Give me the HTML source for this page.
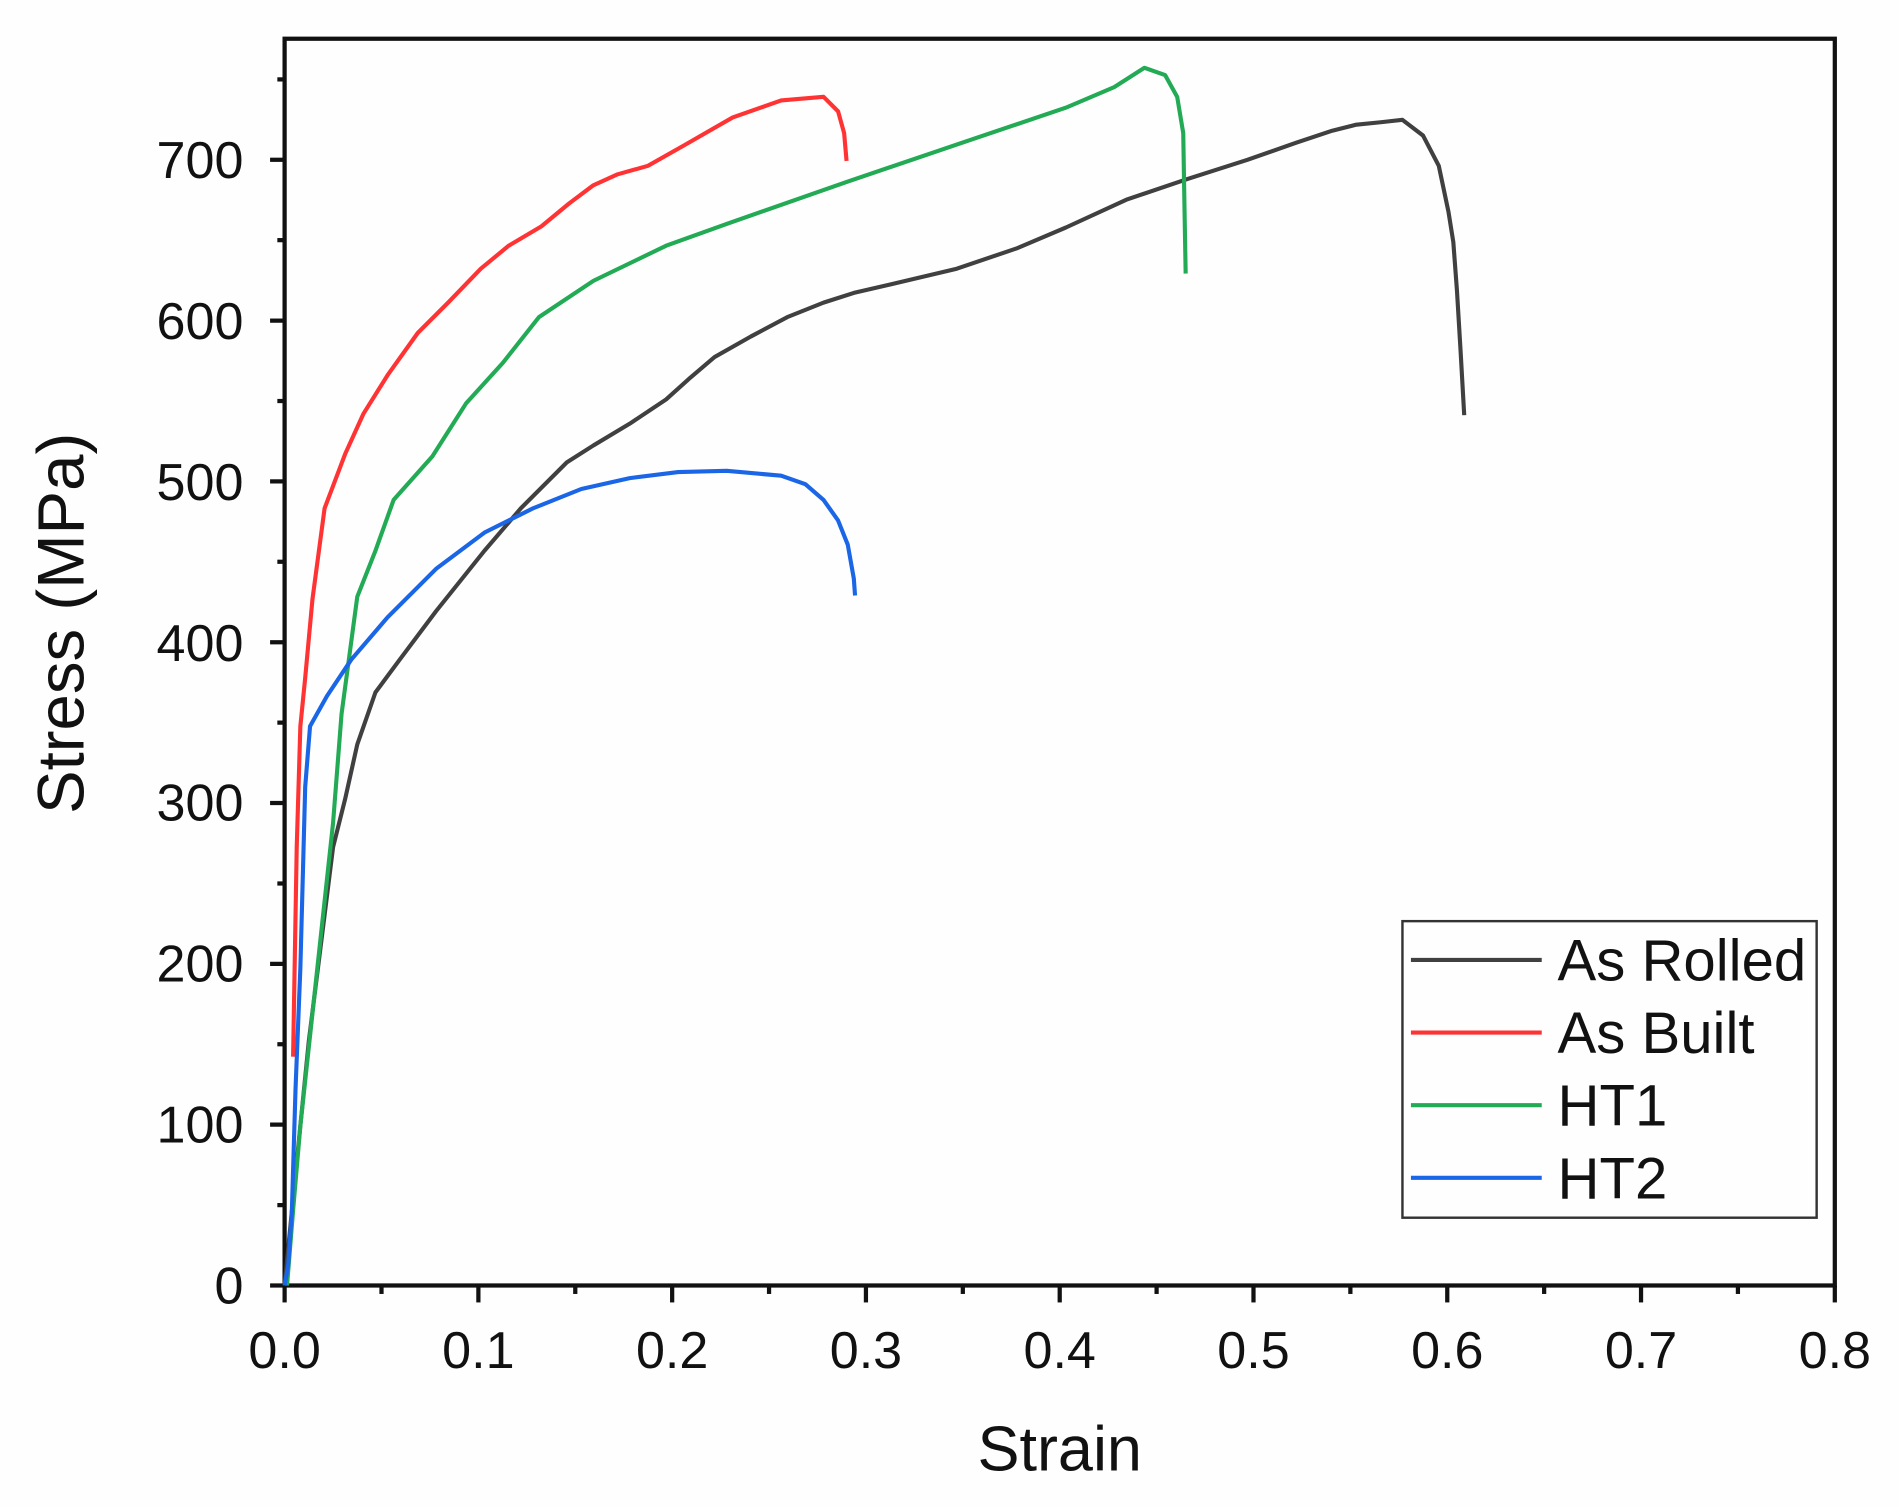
<!DOCTYPE html>
<html><head><meta charset="utf-8"><style>
html,body{margin:0;padding:0;background:#fff;}
svg{display:block;}
text{font-family:"Liberation Sans",Arial,sans-serif;fill:#111;}
</style></head><body>
<svg width="1899" height="1507" viewBox="0 0 1568 1245" preserveAspectRatio="none" xmlns="http://www.w3.org/2000/svg">
<rect width="1568" height="1245" fill="#fefefe"/>
<rect x="235" y="32" width="1280" height="1030" fill="none" stroke="#111" stroke-width="3.5"/>
<g stroke="#111" stroke-width="3.5">
<line x1="223" y1="1062" x2="235" y2="1062"/><line x1="229" y1="995.6" x2="235" y2="995.6"/>
<line x1="223" y1="929.1" x2="235" y2="929.1"/><line x1="229" y1="862.7" x2="235" y2="862.7"/>
<line x1="223" y1="796.3" x2="235" y2="796.3"/><line x1="229" y1="729.9" x2="235" y2="729.9"/>
<line x1="223" y1="663.4" x2="235" y2="663.4"/><line x1="229" y1="597" x2="235" y2="597"/>
<line x1="223" y1="530.6" x2="235" y2="530.6"/><line x1="229" y1="464.1" x2="235" y2="464.1"/>
<line x1="223" y1="397.7" x2="235" y2="397.7"/><line x1="229" y1="331.3" x2="235" y2="331.3"/>
<line x1="223" y1="264.9" x2="235" y2="264.9"/><line x1="229" y1="198.4" x2="235" y2="198.4"/>
<line x1="223" y1="132" x2="235" y2="132"/><line x1="229" y1="65.6" x2="235" y2="65.6"/>
</g>
<g stroke="#111" stroke-width="3.5">
<line x1="235" y1="1062" x2="235" y2="1076"/><line x1="315" y1="1062" x2="315" y2="1069"/>
<line x1="395" y1="1062" x2="395" y2="1076"/><line x1="475" y1="1062" x2="475" y2="1069"/>
<line x1="555" y1="1062" x2="555" y2="1076"/><line x1="635" y1="1062" x2="635" y2="1069"/>
<line x1="715" y1="1062" x2="715" y2="1076"/><line x1="795" y1="1062" x2="795" y2="1069"/>
<line x1="875" y1="1062" x2="875" y2="1076"/><line x1="955" y1="1062" x2="955" y2="1069"/>
<line x1="1035" y1="1062" x2="1035" y2="1076"/><line x1="1115" y1="1062" x2="1115" y2="1069"/>
<line x1="1195" y1="1062" x2="1195" y2="1076"/><line x1="1275" y1="1062" x2="1275" y2="1069"/>
<line x1="1355" y1="1062" x2="1355" y2="1076"/><line x1="1435" y1="1062" x2="1435" y2="1069"/>
<line x1="1515" y1="1062" x2="1515" y2="1076"/>
</g>
<g font-size="43" text-anchor="end">
<text x="201" y="1077">0</text><text x="201" y="944">100</text><text x="201" y="811">200</text>
<text x="201" y="678">300</text><text x="201" y="546">400</text><text x="201" y="413">500</text>
<text x="201" y="280">600</text><text x="201" y="147">700</text>
</g>
<g font-size="43" text-anchor="middle">
<text x="235" y="1130">0.0</text><text x="395" y="1130">0.1</text><text x="555" y="1130">0.2</text>
<text x="715" y="1130">0.3</text><text x="875" y="1130">0.4</text><text x="1035" y="1130">0.5</text>
<text x="1195" y="1130">0.6</text><text x="1355" y="1130">0.7</text><text x="1515" y="1130">0.8</text>
</g>
<text x="875" y="1215" font-size="52" text-anchor="middle">Strain</text>
<text transform="translate(69,515) rotate(-90)" font-size="54" text-anchor="middle">Stress (MPa)</text>
<g fill="none" stroke-width="3.4" stroke-linejoin="round">
<polyline stroke="#404040" points="235,1062 243,980 255,860 265,780 275,700 285,660 295,615 310,572 330,545 360,505 400,455 430,420 468,382 490,368 520,350 550,330 570,312 590,295 620,278 650,262 680,250 705,242 735,235 790,222 840,205 880,188 930,165 980,148 1030,132 1070,118 1100,108 1120,103 1140,101 1158,99 1175,112 1188,137 1196,175 1200,200 1203,240 1206,290 1209,343"/>
<polyline stroke="#ff3333" points="242,873 245,700 248,600 252,560 258,495 268,420 285,375 300,342 320,310 345,275 370,250 397,222 420,203 447,187 470,168 490,153 510,144 535,137 565,120 605,97 645,83 680,80 692,92 697,110 699,133"/>
<polyline stroke="#22aa55" points="237,1062 242,1000 248,930 262,800 275,680 282,590 295,493 310,455 325,413 357,377 385,333 415,300 445,262 490,232 550,203 600,185 700,150 800,116 880,89 920,72 945,56 962,62 972,80 977,110 978,170 979,226"/>
<polyline stroke="#1a66e6" points="235,1062 238,1045 241,1000 244,900 248,800 252,650 256,600 270,575 290,545 320,510 360,470 400,440 440,420 480,404 520,395 560,390 600,389 645,393 665,400 680,413 692,430 700,450 705,478 706,492"/>
</g>
<rect x="1158" y="761" width="342" height="245" fill="#fefefe" stroke="#333" stroke-width="2"/>
<g stroke-width="3.4">
<line x1="1165" y1="793" x2="1273" y2="793" stroke="#404040"/>
<line x1="1165" y1="853" x2="1273" y2="853" stroke="#ff3333"/>
<line x1="1165" y1="913" x2="1273" y2="913" stroke="#22aa55"/>
<line x1="1165" y1="973" x2="1273" y2="973" stroke="#1a66e6"/>
</g>
<g font-size="48">
<text x="1286" y="810">As Rolled</text><text x="1286" y="870">As Built</text>
<text x="1286" y="930">HT1</text><text x="1286" y="990">HT2</text>
</g>
</svg>
</body></html>
